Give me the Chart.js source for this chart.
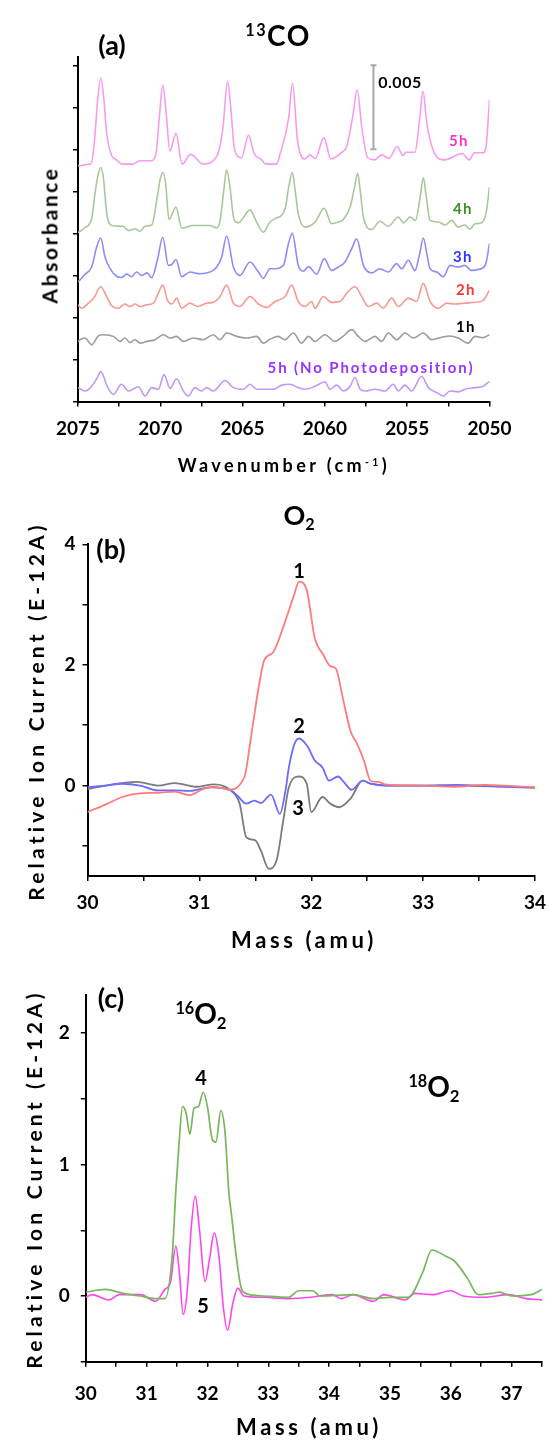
<!DOCTYPE html>
<html>
<head>
<meta charset="utf-8">
<script src="https://cdn.jsdelivr.net/npm/chart.js@4.4.1/dist/chart.umd.min.js"></script>
<style>
  html, body { margin: 0; padding: 0; background: #fff; }
  body { position: relative; width: 549px; height: 1442px; overflow: hidden;
         font-family: Lato, "Open Sans", sans-serif; font-weight: 700; color: #000; }
  canvas { position: absolute; left: 0; }
  .t { position: absolute; white-space: nowrap; line-height: 1; transform: translate(-50%, -50%); }
  .r { transform: translate(-50%, -50%) rotate(-90deg); }
  .sup { font-size: 0.58em; position: relative; top: -0.62em; }
  .sub { font-size: 0.6em; position: relative; top: 0.3em; }
</style>
</head>
<body>
<canvas id="panelA" width="549" height="470" style="top:0"></canvas>
<canvas id="panelB" width="549" height="490" style="top:470px"></canvas>
<canvas id="panelC" width="549" height="482" style="top:960px"></canvas>

<!-- panel (a) text -->
<div class="t" style="left:112px;top:44px;font-size:27px">(a)</div>
<div class="t" style="left:278px;top:35px;font-size:28px;letter-spacing:1.5px"><span class="sup">13</span>CO</div>
<div class="t" style="left:400px;top:82px;font-size:16px;letter-spacing:0.5px">0.005</div>
<div class="t" style="left:459px;top:140px;font-size:15px;letter-spacing:1.5px;color:#ff33cc">5h</div>
<div class="t" style="left:463px;top:208px;font-size:15px;letter-spacing:1.5px;color:#3c8c28">4h</div>
<div class="t" style="left:463px;top:256px;font-size:15px;letter-spacing:1.5px;color:#3333ff">3h</div>
<div class="t" style="left:466px;top:289px;font-size:15px;letter-spacing:1.5px;color:#ff3333">2h</div>
<div class="t" style="left:466px;top:326px;font-size:15px;letter-spacing:1.5px;color:#000">1h</div>
<div class="t" style="left:371px;top:367px;font-size:15px;letter-spacing:1.9px;color:#9933ff">5h (No Photodeposition)</div>
<div class="t r" style="left:49px;top:235px;font-size:21px;letter-spacing:2.6px">Absorbance</div>
<div class="t" style="left:284px;top:465px;font-size:18px;letter-spacing:3.4px">Wavenumber (cm<span class="sup">-1</span>)</div>

<!-- panel (b) text -->
<div class="t" style="left:299px;top:514px;font-size:27px">O<span class="sub">2</span></div>
<div class="t" style="left:111px;top:548px;font-size:27px">(b)</div>
<div class="t" style="left:299px;top:570px;font-size:20px">1</div>
<div class="t" style="left:299px;top:725px;font-size:20px">2</div>
<div class="t" style="left:298px;top:807px;font-size:20px">3</div>
<div class="t" style="left:304px;top:940px;font-size:22px;letter-spacing:3.6px">Mass (amu)</div>
<div class="t r" style="left:35px;top:711px;font-size:21px;letter-spacing:4.2px">Relative Ion Current (E-12A)</div>

<!-- panel (c) text -->
<div class="t" style="left:111px;top:997px;font-size:27px">(c)</div>
<div class="t" style="left:201px;top:1013px;font-size:28px"><span class="sup">16</span>O<span class="sub">2</span></div>
<div class="t" style="left:434px;top:1086px;font-size:28px"><span class="sup">18</span>O<span class="sub">2</span></div>
<div class="t" style="left:201px;top:1077px;font-size:20px">4</div>
<div class="t" style="left:203px;top:1305px;font-size:20px">5</div>
<div class="t" style="left:309px;top:1427px;font-size:22px;letter-spacing:3.6px">Mass (amu)</div>
<div class="t r" style="left:33px;top:1179px;font-size:21px;letter-spacing:4.2px">Relative Ion Current (E-12A)</div>

<script>
// ---------- (a) 13CO IR spectra, stacked traces (axis units: 1 tick = 0.0025 abs) ----------
const wavenumberTicks = [2050, 2052.5, 2055, 2057.5, 2060, 2062.5, 2065, 2067.5, 2070, 2072.5, 2075];
const absorbanceTicks = [0, 1, 2, 3, 4, 5, 6, 7, 8];
const scaleBarWn = 2057.05;
const scaleBarSpan = [6, 8];   // 0.005 absorbance

const wn5h = [2075, 2074.85, 2074.5, 2074.21, 2074.0, 2073.8, 2073.61, 2073.43, 2073.25, 2072.95, 2072.72, 2072.3, 2071.66, 2071.23, 2070.59, 2070.27, 2070.05, 2069.85, 2069.65, 2069.42, 2069.04, 2068.68, 2068.15, 2067.4, 2066.55, 2066.2, 2065.91, 2065.7, 2065.49, 2065.06, 2064.64, 2064.3, 2063.89, 2063.58, 2062.93, 2062.73, 2062.2, 2061.97, 2061.66, 2061.23, 2060.91, 2060.59, 2060.06, 2059.64, 2059.0, 2058.68, 2058.3, 2058.04, 2057.75, 2057.4, 2056.98, 2056.55, 2056.12, 2055.6, 2055.27, 2055.07, 2054.53, 2054.25, 2054.04, 2053.8, 2053.26, 2052.72, 2051.66, 2051.23, 2050.92, 2050.38, 2050.2, 2050];
const abs5h = [5.62, 5.61, 5.64, 5.65, 6.2, 7.2, 7.7, 7.2, 6.36, 5.85, 5.77, 5.65, 5.65, 5.73, 5.73, 5.88, 6.8, 7.53, 6.9, 5.96, 6.38, 5.65, 5.88, 5.65, 5.85, 6.5, 7.62, 6.9, 6.0, 5.8, 6.34, 5.9, 5.77, 5.65, 5.65, 5.88, 6.75, 7.58, 6.2, 5.77, 5.87, 5.78, 6.28, 5.77, 5.92, 6.06, 6.8, 7.42, 6.5, 5.8, 5.75, 5.87, 5.78, 6.07, 5.85, 5.93, 5.93, 6.7, 7.38, 6.6, 5.85, 5.75, 5.9, 5.75, 5.92, 5.92, 6.1, 7.19];

const wn4h = [2075, 2074.88, 2074.57, 2074.17, 2073.95, 2073.8, 2073.62, 2073.45, 2073.26, 2072.95, 2072.25, 2071.94, 2071.54, 2071.23, 2070.93, 2070.52, 2070.18, 2070.0, 2069.85, 2069.68, 2069.47, 2069.05, 2068.7, 2068.0, 2066.98, 2066.57, 2066.37, 2066.15, 2065.97, 2065.8, 2065.52, 2065.26, 2064.55, 2064.15, 2063.74, 2063.34, 2063.03, 2062.42, 2062.2, 2061.98, 2061.8, 2061.62, 2061.2, 2060.6, 2060.04, 2059.6, 2059.19, 2058.88, 2058.47, 2058.2, 2058.01, 2057.85, 2057.66, 2057.16, 2056.66, 2056.15, 2055.54, 2055.23, 2054.83, 2054.5, 2054.2, 2054.02, 2053.85, 2053.61, 2053.1, 2052.7, 2052.3, 2051.9, 2051.5, 2051.2, 2050.88, 2050.5, 2050.2, 2050];
const abs4h = [4.02, 4.05, 4.14, 4.35, 5.0, 5.35, 5.57, 5.3, 4.49, 4.19, 4.17, 4.07, 4.11, 4.05, 4.17, 4.2, 4.88, 5.3, 5.45, 5.2, 4.33, 4.63, 4.13, 4.19, 4.19, 4.13, 4.3, 5.0, 5.51, 5.2, 4.33, 4.25, 4.56, 4.27, 4.03, 4.27, 4.35, 4.58, 5.1, 5.45, 5.0, 4.47, 4.15, 4.27, 4.6, 4.23, 4.27, 4.33, 4.62, 5.1, 5.43, 5.0, 4.39, 4.09, 4.29, 4.17, 4.39, 4.25, 4.39, 4.31, 4.9, 5.33, 4.9, 4.31, 4.27, 4.2, 4.31, 4.15, 4.2, 4.1, 4.23, 4.25, 4.5, 5.1];

const wn3h = [2075, 2074.88, 2074.57, 2074.17, 2073.87, 2073.62, 2073.36, 2073.05, 2072.66, 2072.35, 2072.05, 2071.75, 2071.44, 2071.13, 2070.8, 2070.52, 2070.18, 2069.85, 2069.51, 2069.3, 2069.05, 2068.7, 2068.2, 2067.6, 2066.98, 2066.57, 2066.27, 2065.97, 2065.56, 2065.16, 2064.55, 2064.04, 2063.74, 2063.34, 2063.03, 2062.52, 2062.22, 2061.98, 2061.62, 2061.31, 2061.0, 2060.5, 2060.04, 2059.6, 2059.19, 2058.78, 2058.37, 2058.07, 2057.66, 2057.16, 2056.66, 2056.15, 2055.64, 2055.33, 2054.93, 2054.53, 2054.25, 2054.02, 2053.8, 2053.61, 2053.2, 2052.8, 2052.4, 2051.9, 2051.5, 2051.1, 2050.6, 2050.25, 2050];
const abs3h = [2.85, 2.89, 3.03, 3.2, 3.67, 3.89, 3.44, 3.16, 2.98, 2.95, 3.03, 2.97, 3.08, 3.0, 3.06, 2.95, 3.36, 3.91, 3.24, 3.26, 3.38, 2.97, 3.08, 3.04, 3.08, 3.2, 3.44, 3.94, 3.2, 3.0, 3.32, 3.08, 2.93, 3.16, 3.16, 3.24, 3.75, 4.0, 3.24, 3.1, 3.21, 3.03, 3.4, 3.12, 3.2, 3.32, 3.64, 3.87, 3.24, 3.06, 3.16, 3.08, 3.28, 3.16, 3.36, 3.12, 3.5, 3.89, 3.5, 3.16, 3.08, 2.97, 3.24, 3.2, 3.24, 3.12, 3.15, 3.25, 3.76];

const wn2h = [2075, 2074.78, 2074.37, 2073.97, 2073.8, 2073.62, 2073.45, 2073.26, 2072.95, 2072.56, 2072.15, 2071.85, 2071.54, 2071.23, 2070.83, 2070.42, 2070.12, 2069.85, 2069.57, 2069.3, 2069.0, 2068.7, 2068.2, 2067.7, 2067.19, 2066.78, 2066.37, 2065.97, 2065.56, 2065.16, 2064.55, 2064.04, 2063.54, 2063.03, 2062.42, 2062.02, 2061.62, 2061.21, 2060.8, 2060.6, 2060.1, 2059.6, 2059.1, 2058.58, 2058.17, 2057.76, 2057.36, 2056.86, 2056.45, 2055.94, 2055.54, 2054.93, 2054.43, 2054.02, 2053.61, 2053.1, 2052.6, 2052.1, 2051.5, 2050.88, 2050.4, 2050];
const abs2h = [2.3, 2.22, 2.34, 2.5, 2.65, 2.73, 2.65, 2.5, 2.28, 2.22, 2.32, 2.26, 2.32, 2.26, 2.3, 2.34, 2.58, 2.77, 2.42, 2.32, 2.46, 2.22, 2.34, 2.26, 2.34, 2.36, 2.5, 2.77, 2.34, 2.26, 2.5, 2.32, 2.24, 2.38, 2.5, 2.77, 2.38, 2.26, 2.38, 2.22, 2.5, 2.36, 2.38, 2.62, 2.73, 2.5, 2.26, 2.34, 2.22, 2.46, 2.26, 2.46, 2.38, 2.81, 2.38, 2.22, 2.34, 2.32, 2.34, 2.36, 2.4, 2.65];

const wn1h = [2075, 2074.88, 2074.57, 2074.17, 2073.76, 2073.46, 2072.85, 2072.45, 2072.15, 2071.84, 2071.54, 2071.23, 2070.83, 2070.32, 2069.81, 2069.41, 2069.01, 2068.6, 2068.0, 2067.39, 2066.78, 2066.37, 2065.97, 2065.36, 2064.75, 2064.15, 2063.74, 2063.34, 2062.83, 2062.42, 2061.92, 2061.42, 2061.0, 2060.6, 2060.0, 2059.4, 2058.9, 2058.37, 2057.97, 2057.56, 2056.96, 2056.55, 2056.15, 2055.64, 2055.13, 2054.63, 2054.02, 2053.51, 2052.91, 2052.4, 2051.9, 2051.3, 2050.88, 2050.4, 2050];
const abs1h = [1.43, 1.47, 1.51, 1.35, 1.56, 1.59, 1.55, 1.43, 1.51, 1.4, 1.47, 1.39, 1.43, 1.47, 1.59, 1.51, 1.55, 1.43, 1.51, 1.47, 1.59, 1.47, 1.63, 1.55, 1.51, 1.55, 1.39, 1.48, 1.55, 1.47, 1.63, 1.39, 1.55, 1.43, 1.59, 1.43, 1.55, 1.71, 1.55, 1.43, 1.55, 1.43, 1.63, 1.47, 1.63, 1.51, 1.63, 1.47, 1.53, 1.56, 1.51, 1.39, 1.55, 1.52, 1.59];

const wnNoPD = [2075, 2074.57, 2074.17, 2073.85, 2073.62, 2073.4, 2073.26, 2072.85, 2072.35, 2071.94, 2071.33, 2070.93, 2070.52, 2070.12, 2069.77, 2069.41, 2069.01, 2068.6, 2068.3, 2067.9, 2067.49, 2067.19, 2066.78, 2066.07, 2065.56, 2064.95, 2064.55, 2064.15, 2063.34, 2063.13, 2062.62, 2062.12, 2061.62, 2061.21, 2060.6, 2060.0, 2059.69, 2059.29, 2058.88, 2058.47, 2058.17, 2057.86, 2057.56, 2056.96, 2056.35, 2055.84, 2055.54, 2055.13, 2054.73, 2054.12, 2053.71, 2053.2, 2052.8, 2052.4, 2051.89, 2051.49, 2050.88, 2050.4, 2050];
const absNoPD = [0.33, 0.25, 0.36, 0.55, 0.71, 0.55, 0.39, 0.17, 0.41, 0.25, 0.35, 0.13, 0.33, 0.29, 0.64, 0.31, 0.54, 0.25, 0.13, 0.33, 0.25, 0.33, 0.25, 0.5, 0.33, 0.29, 0.41, 0.29, 0.29, 0.29, 0.39, 0.41, 0.33, 0.29, 0.36, 0.47, 0.29, 0.39, 0.25, 0.36, 0.57, 0.29, 0.25, 0.29, 0.25, 0.41, 0.25, 0.39, 0.25, 0.6, 0.33, 0.21, 0.13, 0.25, 0.23, 0.29, 0.33, 0.36, 0.48];

// ---------- (b) O2 mass signal, 30-34 amu (E-12 A) ----------
const massTicksB = [30, 30.5, 31, 31.5, 32, 32.5, 33, 33.5, 34];
const currentTicksB = [-1, 0, 1, 2, 3, 4];

const massB1 = [30.0, 30.18, 30.31, 30.47, 30.63, 30.78, 30.91, 31.03, 31.13, 31.28, 31.38, 31.41, 31.47, 31.53, 31.58, 31.66, 31.75, 31.85, 31.89, 31.96, 32.03, 32.11, 32.17, 32.22, 32.28, 32.35, 32.41, 32.47, 32.53, 32.6, 32.66, 32.97, 33.28, 33.55, 33.8, 34.0];
const curB1 = [-0.44, -0.3, -0.19, -0.13, -0.12, -0.1, -0.16, -0.06, -0.02, -0.07, 0.06, 0.19, 0.91, 1.63, 2.08, 2.21, 2.63, 3.18, 3.38, 3.24, 2.46, 2.16, 1.98, 1.94, 1.47, 0.91, 0.69, 0.42, 0.08, 0.06, 0.02, 0.0, -0.02, 0.01, -0.01, -0.03];

const massB2 = [30.0, 30.16, 30.31, 30.47, 30.63, 30.78, 30.91, 31.1, 31.28, 31.34, 31.42, 31.49, 31.55, 31.64, 31.72, 31.77, 31.8, 31.85, 31.89, 31.97, 32.03, 32.1, 32.16, 32.24, 32.29, 32.36, 32.46, 32.53, 32.66, 33.0, 33.3, 33.6, 34.0];
const curB2 = [-0.03, 0.0, 0.03, 0.0, -0.08, -0.08, -0.09, -0.03, -0.08, -0.17, -0.3, -0.25, -0.29, -0.15, -0.47, -0.08, 0.3, 0.69, 0.78, 0.64, 0.42, 0.3, 0.08, 0.15, 0.06, -0.07, 0.08, 0.03, 0.0, 0.0, 0.01, -0.01, -0.04];

const massB3 = [30.0, 30.16, 30.44, 30.63, 30.78, 30.97, 31.13, 31.28, 31.36, 31.42, 31.5, 31.55, 31.62, 31.69, 31.75, 31.8, 31.89, 31.96, 32.0, 32.1, 32.17, 32.25, 32.35, 32.46, 32.53, 32.7, 33.0, 33.5, 34.0];
const curB3 = [-0.06, 0.0, 0.06, 0.0, 0.04, -0.02, 0.02, -0.08, -0.3, -0.86, -0.91, -1.08, -1.38, -1.24, -0.58, -0.03, 0.15, 0.03, -0.44, -0.19, -0.3, -0.36, -0.22, 0.08, 0.03, 0.0, 0.0, -0.01, -0.03];

// ---------- (c) 16O2 / 18O2 mass signal, 30-37.5 amu (E-12 A) ----------
const massTicksC = [30, 30.5, 31, 31.5, 32, 32.5, 33, 33.5, 34, 34.5, 35, 35.5, 36, 36.5, 37, 37.5];
const currentTicksC = [-0.5, 0, 0.5, 1, 1.5, 2];

const massC4 = [30.0, 30.32, 30.61, 30.9, 31.13, 31.3, 31.42, 31.48, 31.53, 31.59, 31.65, 31.71, 31.78, 31.85, 31.93, 32.0, 32.08, 32.14, 32.22, 32.29, 32.35, 32.4, 32.46, 32.55, 32.63, 32.92, 33.33, 33.5, 33.73, 33.85, 34.39, 34.73, 35.0, 35.3, 35.53, 35.69, 35.93, 36.05, 36.16, 36.28, 36.45, 36.68, 36.8, 37.0, 37.32, 37.5];
const curC4 = [0.03, 0.05, 0.02, 0.0, -0.02, -0.02, 0.3, 0.8, 1.14, 1.44, 1.39, 1.23, 1.43, 1.44, 1.55, 1.44, 1.19, 1.17, 1.41, 1.24, 0.8, 0.6, 0.35, 0.07, 0.02, 0.0, -0.01, 0.04, 0.04, 0.0, 0.01, -0.02, -0.01, -0.01, 0.17, 0.35, 0.3, 0.27, 0.21, 0.13, 0.01, 0.02, 0.03, 0.0, 0.01, 0.05];

const massC5 = [30.0, 30.1, 30.38, 30.55, 30.9, 31.15, 31.3, 31.39, 31.48, 31.54, 31.6, 31.67, 31.73, 31.8, 31.87, 31.96, 32.04, 32.11, 32.19, 32.26, 32.33, 32.42, 32.5, 32.6, 32.92, 33.33, 33.7, 34.05, 34.2, 34.39, 34.73, 34.9, 35.25, 35.41, 35.7, 36.0, 36.2, 36.55, 36.95, 37.24, 37.5];
const curC5 = [-0.01, 0.01, -0.03, 0.01, 0.01, -0.04, 0.05, 0.1, 0.38, 0.17, -0.14, 0.05, 0.5, 0.76, 0.5, 0.11, 0.3, 0.48, 0.3, -0.08, -0.26, -0.05, 0.06, 0.0, -0.01, -0.02, -0.01, 0.01, -0.02, 0.01, -0.04, 0.01, -0.03, 0.02, 0.01, 0.04, 0.0, -0.01, 0.01, -0.02, -0.03];

// ---------- helpers ----------
Chart.defaults.font.family = 'Lato, "Open Sans", sans-serif';
Chart.defaults.font.weight = 'bold';
Chart.defaults.color = '#000';

function points(xs, ys) {
  const n = Math.min(xs.length, ys.length);
  const out = [];
  for (let i = 0; i < n; i++) out.push({ x: xs[i], y: ys[i] });
  return out;
}
function trace(label, xs, ys, color, width) {
  return { label, data: points(xs, ys), borderColor: color, borderWidth: width,
           pointRadius: 0, fill: false, cubicInterpolationMode: 'monotone' };
}
function axisX(min, max, tickVals, labelFn, height, pad, reverse) {
  return {
    type: 'linear', position: 'bottom', min, max, reverse: !!reverse,
    afterBuildTicks: s => { s.ticks = tickVals.map(v => ({ value: v })); },
    afterFit: s => { s.height = height; s.paddingLeft = 0; s.paddingRight = 0; },
    grid: { display: true, drawOnChartArea: false, drawTicks: true, tickLength: 5, color: '#000', lineWidth: 1.5 },
    border: { display: true, color: '#000', width: 2 },
    ticks: { autoSkip: false, maxRotation: 0, minRotation: 0, padding: pad, color: '#000',
             font: { size: 19, weight: 'bold' }, callback: labelFn }
  };
}
function axisY(min, max, tickVals, labelFn, width, pad) {
  return {
    type: 'linear', position: 'left', min, max,
    afterBuildTicks: s => { s.ticks = tickVals.map(v => ({ value: v })); },
    afterFit: s => { s.width = width; s.paddingTop = 0; s.paddingBottom = 0; },
    grid: { display: true, drawOnChartArea: false, drawTicks: true, tickLength: 5, color: '#000', lineWidth: 1.5 },
    border: { display: true, color: '#000', width: 2 },
    ticks: { autoSkip: false, padding: pad, color: '#000', font: { size: 19, weight: 'bold' }, callback: labelFn }
  };
}
function baseOptions(padding, scales) {
  return {
    responsive: false, animation: false, devicePixelRatio: 1, events: [],
    layout: { padding, autoPadding: false },
    plugins: { legend: { display: false }, tooltip: { enabled: false } },
    scales
  };
}

// ---------- (a) ----------
new Chart(document.getElementById('panelA'), {
  type: 'line',
  data: { datasets: [
    trace('5h', wn5h, abs5h, '#f69ced', 1.6),
    trace('4h', wn4h, abs4h, '#a8c89a', 1.6),
    trace('3h', wn3h, abs3h, '#8d8df6', 1.6),
    trace('2h', wn2h, abs2h, '#f69a94', 1.6),
    trace('1h', wn1h, abs1h, '#9c9c9c', 1.6),
    trace('5h (No Photodeposition)', wnNoPD, absNoPD, '#c597f4', 1.6),
    { label: '0.005', data: points([scaleBarWn, scaleBarWn], scaleBarSpan),
      borderColor: '#a8a8a8', borderWidth: 2, pointStyle: 'line', pointRadius: 3,
      pointBorderColor: '#a8a8a8', pointBorderWidth: 2 }
  ] },
  options: baseOptions({ top: 56.5, right: 59.5, bottom: 28.5, left: 0 }, {
    x: axisX(2050, 2075, wavenumberTicks, v => (v % 5 === 0 ? String(v) : ''), 40, 11, true),
    y: axisY(0, 8.21, absorbanceTicks, () => '', 78, 4)
  })
});

// ---------- (b) ----------
new Chart(document.getElementById('panelB'), {
  type: 'line',
  data: { datasets: [
    trace('1', massB1, curB1, '#ff7b7b', 1.8),
    trace('2', massB2, curB2, '#6b6bff', 1.8),
    trace('3', massB3, curB3, '#7c7c7c', 1.8)
  ] },
  options: baseOptions({ top: 74.3, right: 14, bottom: 44, left: 0 }, {
    x: axisX(30, 34, massTicksB, v => (Number.isInteger(v) ? String(v) : ''), 40, 10, false),
    y: axisY(-1.5, 4, currentTicksB, v => (v % 2 === 0 ? String(v) : ''), 87.5, 7)
  })
});

// ---------- (c) ----------
new Chart(document.getElementById('panelC'), {
  type: 'line',
  data: { datasets: [
    trace('4', massC4, curC4, '#78b65c', 1.7),
    trace('5', massC5, curC5, '#ff45ee', 1.6)
  ] },
  options: baseOptions({ top: 35, right: 7, bottom: 40.3, left: 0 }, {
    x: axisX(30, 37.5, massTicksC, v => (Number.isInteger(v) ? String(v) : ''), 40, 16, false),
    y: axisY(-0.5, 2.29, currentTicksC, v => (Number.isInteger(v) ? String(v) : ''), 85.8, 11)
  })
});
</script>
</body>
</html>
